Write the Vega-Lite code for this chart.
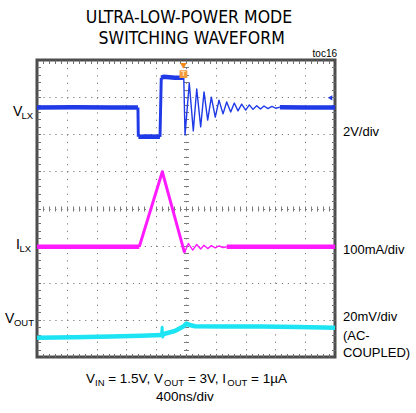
{
  "$schema": "https://vega.github.io/schema/vega-lite/v6.json",
  "width": 298,
  "height": 297,
  "autosize": "none",
  "padding": {"left": 37, "top": 60, "right": 81, "bottom": 56},
  "background": "white",
  "config": {
    "view": {"stroke": "#4d4d4d", "strokeWidth": 3},
    "axis": {"labels": false, "title": null, "domain": false, "ticks": false, "grid": false},
    "text": {"font": "Liberation Sans, Arial, sans-serif", "fontSize": 13, "baseline": "alphabetic", "align": "left", "color": "#000"}
  },
  "data": {"values": [{}]},
  "datasets": {
    "traces": [
      {"trace": "VLX", "seg": "a", "kind": "flat", "t": -2000, "d": 6.72},
      {"trace": "VLX", "seg": "a", "kind": "flat", "t": -1500, "d": 6.73},
      {"trace": "VLX", "seg": "a", "kind": "flat", "t": -1000, "d": 6.72},
      {"trace": "VLX", "seg": "a", "kind": "flat", "t": -645, "d": 6.72},
      {"trace": "VLX", "seg": "b", "kind": "edge", "t": -645, "d": 6.72},
      {"trace": "VLX", "seg": "b", "kind": "edge", "t": -640, "d": 5.93},
      {"trace": "VLX", "seg": "c", "kind": "flat", "t": -640, "d": 5.93},
      {"trace": "VLX", "seg": "c", "kind": "flat", "t": -500, "d": 5.94},
      {"trace": "VLX", "seg": "c", "kind": "flat", "t": -349, "d": 5.93},
      {"trace": "VLX", "seg": "d", "kind": "edge", "t": -349, "d": 5.93},
      {"trace": "VLX", "seg": "d", "kind": "edge", "t": -332, "d": 7.52},
      {"trace": "VLX", "seg": "e", "kind": "flat", "t": -332, "d": 7.52},
      {"trace": "VLX", "seg": "e", "kind": "flat", "t": -300, "d": 7.55},
      {"trace": "VLX", "seg": "e", "kind": "flat", "t": -150, "d": 7.52},
      {"trace": "VLX", "seg": "e", "kind": "flat", "t": -30, "d": 7.52},
      {"trace": "VLX", "seg": "f", "kind": "ring", "t": -30, "d": 7.52},
      {"trace": "VLX", "seg": "f", "kind": "ring", "t": -13, "d": 5.98},
      {"trace": "VLX", "seg": "f", "kind": "ring", "t": 44, "d": 7.38},
      {"trace": "VLX", "seg": "f", "kind": "ring", "t": 98, "d": 6.09},
      {"trace": "VLX", "seg": "f", "kind": "ring", "t": 144, "d": 7.22},
      {"trace": "VLX", "seg": "f", "kind": "ring", "t": 197, "d": 6.2},
      {"trace": "VLX", "seg": "f", "kind": "ring", "t": 242, "d": 7.14},
      {"trace": "VLX", "seg": "f", "kind": "ring", "t": 291, "d": 6.38},
      {"trace": "VLX", "seg": "f", "kind": "ring", "t": 340, "d": 7.0},
      {"trace": "VLX", "seg": "f", "kind": "ring", "t": 393, "d": 6.46},
      {"trace": "VLX", "seg": "f", "kind": "ring", "t": 443, "d": 6.92},
      {"trace": "VLX", "seg": "f", "kind": "ring", "t": 497, "d": 6.55},
      {"trace": "VLX", "seg": "f", "kind": "ring", "t": 546, "d": 6.87},
      {"trace": "VLX", "seg": "f", "kind": "ring", "t": 600, "d": 6.6},
      {"trace": "VLX", "seg": "f", "kind": "ring", "t": 648, "d": 6.84},
      {"trace": "VLX", "seg": "f", "kind": "ring", "t": 698, "d": 6.63},
      {"trace": "VLX", "seg": "f", "kind": "ring", "t": 747, "d": 6.81},
      {"trace": "VLX", "seg": "f", "kind": "ring", "t": 801, "d": 6.65},
      {"trace": "VLX", "seg": "f", "kind": "ring", "t": 850, "d": 6.79},
      {"trace": "VLX", "seg": "f", "kind": "ring", "t": 899, "d": 6.67},
      {"trace": "VLX", "seg": "f", "kind": "ring", "t": 949, "d": 6.77},
      {"trace": "VLX", "seg": "f", "kind": "ring", "t": 1000, "d": 6.68},
      {"trace": "VLX", "seg": "f", "kind": "ring", "t": 1047, "d": 6.76},
      {"trace": "VLX", "seg": "f", "kind": "ring", "t": 1100, "d": 6.69},
      {"trace": "VLX", "seg": "f", "kind": "ring", "t": 1154, "d": 6.75},
      {"trace": "VLX", "seg": "f", "kind": "ring", "t": 1208, "d": 6.7},
      {"trace": "VLX", "seg": "f", "kind": "ring", "t": 1260, "d": 6.73},
      {"trace": "VLX", "seg": "g", "kind": "flat", "t": 1260, "d": 6.73},
      {"trace": "VLX", "seg": "g", "kind": "flat", "t": 1600, "d": 6.72},
      {"trace": "VLX", "seg": "g", "kind": "flat", "t": 2000, "d": 6.72},
      {"trace": "ILX", "seg": "a", "kind": "flat", "t": -2000, "d": 2.97},
      {"trace": "ILX", "seg": "a", "kind": "flat", "t": -1000, "d": 2.97},
      {"trace": "ILX", "seg": "a", "kind": "flat", "t": -627, "d": 2.97},
      {"trace": "ILX", "seg": "b", "kind": "edge", "t": -627, "d": 2.97},
      {"trace": "ILX", "seg": "b", "kind": "edge", "t": -318, "d": 4.99},
      {"trace": "ILX", "seg": "b", "kind": "edge", "t": -20, "d": 2.81},
      {"trace": "ILX", "seg": "c", "kind": "ring", "t": -20, "d": 2.81},
      {"trace": "ILX", "seg": "c", "kind": "ring", "t": 31, "d": 3.06},
      {"trace": "ILX", "seg": "c", "kind": "ring", "t": 90, "d": 2.88},
      {"trace": "ILX", "seg": "c", "kind": "ring", "t": 144, "d": 3.03},
      {"trace": "ILX", "seg": "c", "kind": "ring", "t": 197, "d": 2.91},
      {"trace": "ILX", "seg": "c", "kind": "ring", "t": 242, "d": 3.01},
      {"trace": "ILX", "seg": "c", "kind": "ring", "t": 291, "d": 2.92},
      {"trace": "ILX", "seg": "c", "kind": "ring", "t": 340, "d": 3.0},
      {"trace": "ILX", "seg": "c", "kind": "ring", "t": 393, "d": 2.94},
      {"trace": "ILX", "seg": "c", "kind": "ring", "t": 443, "d": 2.99},
      {"trace": "ILX", "seg": "c", "kind": "ring", "t": 497, "d": 2.95},
      {"trace": "ILX", "seg": "c", "kind": "ring", "t": 546, "d": 2.97},
      {"trace": "ILX", "seg": "d", "kind": "flat", "t": 546, "d": 2.97},
      {"trace": "ILX", "seg": "d", "kind": "flat", "t": 1200, "d": 2.97},
      {"trace": "ILX", "seg": "d", "kind": "flat", "t": 2000, "d": 2.97},
      {"trace": "VOUT", "seg": "a", "kind": "flat", "t": -2000, "d": 0.52},
      {"trace": "VOUT", "seg": "a", "kind": "flat", "t": -1500, "d": 0.53},
      {"trace": "VOUT", "seg": "a", "kind": "flat", "t": -1000, "d": 0.55},
      {"trace": "VOUT", "seg": "a", "kind": "flat", "t": -600, "d": 0.57},
      {"trace": "VOUT", "seg": "a", "kind": "flat", "t": -330, "d": 0.59},
      {"trace": "VOUT", "seg": "b", "kind": "edge", "t": -330, "d": 0.59},
      {"trace": "VOUT", "seg": "b", "kind": "edge", "t": -320, "d": 0.8},
      {"trace": "VOUT", "seg": "b", "kind": "edge", "t": -313, "d": 0.54},
      {"trace": "VOUT", "seg": "b", "kind": "edge", "t": -300, "d": 0.62},
      {"trace": "VOUT", "seg": "c", "kind": "flat", "t": -300, "d": 0.62},
      {"trace": "VOUT", "seg": "c", "kind": "flat", "t": -150, "d": 0.7},
      {"trace": "VOUT", "seg": "c", "kind": "flat", "t": -30, "d": 0.83},
      {"trace": "VOUT", "seg": "c", "kind": "flat", "t": 5, "d": 0.9},
      {"trace": "VOUT", "seg": "c", "kind": "flat", "t": 50, "d": 0.86},
      {"trace": "VOUT", "seg": "c", "kind": "flat", "t": 120, "d": 0.83},
      {"trace": "VOUT", "seg": "c", "kind": "flat", "t": 500, "d": 0.82},
      {"trace": "VOUT", "seg": "c", "kind": "flat", "t": 1000, "d": 0.82},
      {"trace": "VOUT", "seg": "c", "kind": "flat", "t": 1500, "d": 0.81},
      {"trace": "VOUT", "seg": "c", "kind": "flat", "t": 2000, "d": 0.79}
    ]
  },
  "layer": [
    {
      "data": {"name": "traces"},
      "transform": [{"filter": "datum.trace === 'VLX'"}],
      "mark": {"type": "line", "color": "#1f3ae6", "strokeJoin": "round"},
      "encoding": {
        "x": {"field": "t", "type": "quantitative", "scale": {"domain": [-2000, 2000], "nice": false, "zero": false},
          "axis": {"orient": "bottom", "values": [-1600, -1200, -800, -400, 0, 400, 800, 1200, 1600], "grid": true, "gridDash": [1.2, 6.2], "gridColor": "#7a7a7a", "gridWidth": 1, "ticks": false, "domain": false, "labels": false}},
        "y": {"field": "d", "type": "quantitative", "scale": {"domain": [0, 8], "nice": false, "zero": false},
          "axis": {"orient": "left", "values": [1, 2, 3, 4, 5, 6, 7], "grid": true, "gridDash": [1.2, 4.76], "gridColor": "#7a7a7a", "gridWidth": 1, "ticks": false, "domain": false, "labels": false}},
        "strokeWidth": {"field": "kind", "type": "nominal", "scale": {"domain": ["flat", "edge", "ring"], "range": [4.5, 1.4, 2.8]}, "legend": null},
        "detail": {"field": "seg"}
      }
    },
    {
      "data": {"name": "traces"},
      "transform": [{"filter": "datum.trace === 'ILX'"}],
      "mark": {"type": "line", "color": "#ff1aff", "strokeJoin": "round"},
      "encoding": {
        "x": {"field": "t", "type": "quantitative", "scale": {"domain": [-2000, 2000], "nice": false, "zero": false},
          "axis": {"orient": "bottom", "values": [-1920,-1840,-1760,-1680,-1600,-1520,-1440,-1360,-1280,-1200,-1120,-1040,-960,-880,-800,-720,-640,-560,-480,-400,-320,-240,-160,-80,0,80,160,240,320,400,480,560,640,720,800,880,960,1040,1120,1200,1280,1360,1440,1520,1600,1680,1760,1840,1920], "ticks": true, "tickSize": -3.5, "tickColor": "#6e6e6e", "tickWidth": 1, "grid": false, "domain": false, "labels": false}},
        "y": {"field": "d", "type": "quantitative", "scale": {"domain": [0, 8], "nice": false, "zero": false},
          "axis": {"orient": "left", "values": [0.2,0.4,0.6,0.8,1,1.2,1.4,1.6,1.8,2,2.2,2.4,2.6,2.8,3,3.2,3.4,3.6,3.8,4,4.2,4.4,4.6,4.8,5,5.2,5.4,5.6,5.8,6,6.2,6.4,6.6,6.8,7,7.2,7.4,7.6,7.8], "ticks": true, "tickSize": -3.5, "tickColor": "#6e6e6e", "tickWidth": 1, "grid": false, "domain": false, "labels": false}},
        "strokeWidth": {"field": "kind", "type": "nominal", "scale": {"domain": ["flat", "edge", "ring"], "range": [4.5, 1.4, 2.8]}, "legend": null},
        "detail": {"field": "seg"}
      }
    },
    {
      "data": {"name": "traces"},
      "transform": [{"filter": "datum.trace === 'VOUT'"}],
      "mark": {"type": "line", "color": "#1de4f2", "strokeJoin": "round"},
      "encoding": {
        "x": {"field": "t", "type": "quantitative", "scale": {"domain": [-2000, 2000], "nice": false, "zero": false},
          "axis": {"orient": "top", "values": [-1920,-1840,-1760,-1680,-1600,-1520,-1440,-1360,-1280,-1200,-1120,-1040,-960,-880,-800,-720,-640,-560,-480,-400,-320,-240,-160,-80,0,80,160,240,320,400,480,560,640,720,800,880,960,1040,1120,1200,1280,1360,1440,1520,1600,1680,1760,1840,1920], "ticks": true, "tickSize": -3.5, "tickColor": "#6e6e6e", "tickWidth": 1, "grid": false, "domain": false, "labels": false}},
        "y": {"field": "d", "type": "quantitative", "scale": {"domain": [0, 8], "nice": false, "zero": false},
          "axis": {"orient": "right", "values": [0.2,0.4,0.6,0.8,1,1.2,1.4,1.6,1.8,2,2.2,2.4,2.6,2.8,3,3.2,3.4,3.6,3.8,4,4.2,4.4,4.6,4.8,5,5.2,5.4,5.6,5.8,6,6.2,6.4,6.6,6.8,7,7.2,7.4,7.6,7.8], "ticks": true, "tickSize": -3.5, "tickColor": "#6e6e6e", "tickWidth": 1, "grid": false, "domain": false, "labels": false}},
        "strokeWidth": {"field": "kind", "type": "nominal", "scale": {"domain": ["flat", "edge", "ring"], "range": [4.5, 1.4, 2.8]}, "legend": null},
        "detail": {"field": "seg"}
      }
    },
    {
      "mark": {"type": "point", "shape": "triangle-down", "filled": true, "color": "#f28a1a", "size": 45, "opacity": 1},
      "encoding": {
        "x": {"datum": -35, "type": "quantitative", "scale": {"domain": [-2000, 2000], "nice": false, "zero": false},
          "axis": {"orient": "bottom", "offset": -151, "values": [-1920,-1840,-1760,-1680,-1600,-1520,-1440,-1360,-1280,-1200,-1120,-1040,-960,-880,-800,-720,-640,-560,-480,-400,-320,-240,-160,-80,0,80,160,240,320,400,480,560,640,720,800,880,960,1040,1120,1200,1280,1360,1440,1520,1600,1680,1760,1840,1920], "ticks": true, "tickSize": 5, "tickColor": "#7a7a7a", "tickWidth": 1, "grid": false, "domain": false, "labels": false}},
        "y": {"datum": 7.84, "type": "quantitative", "scale": {"domain": [0, 8], "nice": false, "zero": false},
          "axis": {"orient": "left", "offset": -151.5, "values": [0.2,0.4,0.6,0.8,1,1.2,1.4,1.6,1.8,2,2.2,2.4,2.6,2.8,3,3.2,3.4,3.6,3.8,4,4.2,4.4,4.6,4.8,5,5.2,5.4,5.6,5.8,6,6.2,6.4,6.6,6.8,7,7.2,7.4,7.6,7.8], "ticks": true, "tickSize": 5, "tickColor": "#7a7a7a", "tickWidth": 1, "grid": false, "domain": false, "labels": false}}
      }
    },
    {
      "mark": {"type": "point", "shape": "square", "filled": true, "color": "#f39a3c", "size": 60, "opacity": 1},
      "encoding": {
        "x": {"datum": -35, "type": "quantitative", "scale": {"domain": [-2000, 2000], "nice": false, "zero": false}, "axis": null},
        "y": {"datum": 7.62, "type": "quantitative", "scale": {"domain": [0, 8], "nice": false, "zero": false}, "axis": null}
      }
    },
    {
      "mark": {"type": "text", "text": "T", "align": "center", "baseline": "middle", "fontSize": 8, "fontWeight": "bold", "color": "#ffe2b8"},
      "encoding": {
        "x": {"datum": -35, "type": "quantitative", "scale": {"domain": [-2000, 2000], "nice": false, "zero": false}, "axis": null},
        "y": {"datum": 7.62, "type": "quantitative", "scale": {"domain": [0, 8], "nice": false, "zero": false}, "axis": null}
      }
    },
    {
      "mark": {"type": "point", "shape": "triangle-left", "filled": true, "color": "#1f3ae6", "size": 28, "opacity": 1},
      "encoding": {
        "x": {"datum": 1933, "type": "quantitative", "scale": {"domain": [-2000, 2000], "nice": false, "zero": false}, "axis": null},
        "y": {"datum": 6.98, "type": "quantitative", "scale": {"domain": [0, 8], "nice": false, "zero": false}, "axis": null}
      }
    },
    {
      "mark": {"type": "text", "text": "ULTRA-LOW-POWER MODE", "align": "center", "fontSize": 17.5, "font": "Liberation Sans Narrow, Arial Narrow, DejaVu Sans Condensed, sans-serif"},
      "encoding": {
        "x": {"datum": 40, "type": "quantitative", "scale": {"domain": [-2000, 2000], "nice": false, "zero": false}, "axis": null},
        "y": {"datum": 8.989, "type": "quantitative", "scale": {"domain": [0, 8], "nice": false, "zero": false}, "axis": null}
      }
    },
    {
      "mark": {"type": "text", "text": "SWITCHING WAVEFORM", "align": "center", "fontSize": 17.5, "font": "Liberation Sans Narrow, Arial Narrow, DejaVu Sans Condensed, sans-serif"},
      "encoding": {
        "x": {"datum": 76, "type": "quantitative", "scale": {"domain": [-2000, 2000], "nice": false, "zero": false}, "axis": null},
        "y": {"datum": 8.431, "type": "quantitative", "scale": {"domain": [0, 8], "nice": false, "zero": false}, "axis": null}
      }
    },
    {
      "mark": {"type": "text", "text": "toc16", "align": "right", "fontSize": 10},
      "encoding": {
        "x": {"datum": 2027, "type": "quantitative", "scale": {"domain": [-2000, 2000], "nice": false, "zero": false}, "axis": null},
        "y": {"datum": 8.07, "type": "quantitative", "scale": {"domain": [0, 8], "nice": false, "zero": false}, "axis": null}
      }
    },
    {
      "mark": {"type": "text", "text": "V", "fontSize": 14},
      "encoding": {
        "x": {"datum": -2322, "type": "quantitative", "scale": {"domain": [-2000, 2000], "nice": false, "zero": false}, "axis": null},
        "y": {"datum": 6.5, "type": "quantitative", "scale": {"domain": [0, 8], "nice": false, "zero": false}, "axis": null}
      }
    },
    {
      "mark": {"type": "text", "text": "LX", "fontSize": 9.5},
      "encoding": {
        "x": {"datum": -2208, "type": "quantitative", "scale": {"domain": [-2000, 2000], "nice": false, "zero": false}, "axis": null},
        "y": {"datum": 6.41, "type": "quantitative", "scale": {"domain": [0, 8], "nice": false, "zero": false}, "axis": null}
      }
    },
    {
      "mark": {"type": "text", "text": "I", "fontSize": 14},
      "encoding": {
        "x": {"datum": -2282, "type": "quantitative", "scale": {"domain": [-2000, 2000], "nice": false, "zero": false}, "axis": null},
        "y": {"datum": 2.909, "type": "quantitative", "scale": {"domain": [0, 8], "nice": false, "zero": false}, "axis": null}
      }
    },
    {
      "mark": {"type": "text", "text": "LX", "fontSize": 9.5},
      "encoding": {
        "x": {"datum": -2235, "type": "quantitative", "scale": {"domain": [-2000, 2000], "nice": false, "zero": false}, "axis": null},
        "y": {"datum": 2.82, "type": "quantitative", "scale": {"domain": [0, 8], "nice": false, "zero": false}, "axis": null}
      }
    },
    {
      "mark": {"type": "text", "text": "V", "fontSize": 14},
      "encoding": {
        "x": {"datum": -2430, "type": "quantitative", "scale": {"domain": [-2000, 2000], "nice": false, "zero": false}, "axis": null},
        "y": {"datum": 0.916, "type": "quantitative", "scale": {"domain": [0, 8], "nice": false, "zero": false}, "axis": null}
      }
    },
    {
      "mark": {"type": "text", "text": "OUT", "fontSize": 9.5},
      "encoding": {
        "x": {"datum": -2309, "type": "quantitative", "scale": {"domain": [-2000, 2000], "nice": false, "zero": false}, "axis": null},
        "y": {"datum": 0.835, "type": "quantitative", "scale": {"domain": [0, 8], "nice": false, "zero": false}, "axis": null}
      }
    },
    {
      "mark": {"type": "text", "text": "2V/div"},
      "encoding": {
        "x": {"datum": 2107, "type": "quantitative", "scale": {"domain": [-2000, 2000], "nice": false, "zero": false}, "axis": null},
        "y": {"datum": 5.953, "type": "quantitative", "scale": {"domain": [0, 8], "nice": false, "zero": false}, "axis": null}
      }
    },
    {
      "mark": {"type": "text", "text": "100mA/div"},
      "encoding": {
        "x": {"datum": 2107, "type": "quantitative", "scale": {"domain": [-2000, 2000], "nice": false, "zero": false}, "axis": null},
        "y": {"datum": 2.774, "type": "quantitative", "scale": {"domain": [0, 8], "nice": false, "zero": false}, "axis": null}
      }
    },
    {
      "mark": {"type": "text", "text": "20mV/div"},
      "encoding": {
        "x": {"datum": 2107, "type": "quantitative", "scale": {"domain": [-2000, 2000], "nice": false, "zero": false}, "axis": null},
        "y": {"datum": 0.97, "type": "quantitative", "scale": {"domain": [0, 8], "nice": false, "zero": false}, "axis": null}
      }
    },
    {
      "mark": {"type": "text", "text": "(AC-"},
      "encoding": {
        "x": {"datum": 2107, "type": "quantitative", "scale": {"domain": [-2000, 2000], "nice": false, "zero": false}, "axis": null},
        "y": {"datum": 0.458, "type": "quantitative", "scale": {"domain": [0, 8], "nice": false, "zero": false}, "axis": null}
      }
    },
    {
      "mark": {"type": "text", "text": "COUPLED)"},
      "encoding": {
        "x": {"datum": 2107, "type": "quantitative", "scale": {"domain": [-2000, 2000], "nice": false, "zero": false}, "axis": null},
        "y": {"datum": 0.008, "type": "quantitative", "scale": {"domain": [0, 8], "nice": false, "zero": false}, "axis": null}
      }
    },
    {
      "mark": {"type": "text", "text": "V", "fontSize": 13.5},
      "encoding": {
        "x": {"datum": -1342, "type": "quantitative", "scale": {"domain": [-2000, 2000], "nice": false, "zero": false}, "axis": null},
        "y": {"datum": -0.7, "type": "quantitative", "scale": {"domain": [0, 8], "nice": false, "zero": false}, "axis": null}
      }
    },
    {
      "mark": {"type": "text", "text": "IN", "fontSize": 9.5},
      "encoding": {
        "x": {"datum": -1221, "type": "quantitative", "scale": {"domain": [-2000, 2000], "nice": false, "zero": false}, "axis": null},
        "y": {"datum": -0.781, "type": "quantitative", "scale": {"domain": [0, 8], "nice": false, "zero": false}, "axis": null}
      }
    },
    {
      "mark": {"type": "text", "text": "= 1.5V, V", "fontSize": 13.5},
      "encoding": {
        "x": {"datum": -1044, "type": "quantitative", "scale": {"domain": [-2000, 2000], "nice": false, "zero": false}, "axis": null},
        "y": {"datum": -0.7, "type": "quantitative", "scale": {"domain": [0, 8], "nice": false, "zero": false}, "axis": null}
      }
    },
    {
      "mark": {"type": "text", "text": "OUT", "fontSize": 9.5},
      "encoding": {
        "x": {"datum": -294, "type": "quantitative", "scale": {"domain": [-2000, 2000], "nice": false, "zero": false}, "axis": null},
        "y": {"datum": -0.781, "type": "quantitative", "scale": {"domain": [0, 8], "nice": false, "zero": false}, "axis": null}
      }
    },
    {
      "mark": {"type": "text", "text": "= 3V, I", "fontSize": 13.5},
      "encoding": {
        "x": {"datum": 26, "type": "quantitative", "scale": {"domain": [-2000, 2000], "nice": false, "zero": false}, "axis": null},
        "y": {"datum": -0.7, "type": "quantitative", "scale": {"domain": [0, 8], "nice": false, "zero": false}, "axis": null}
      }
    },
    {
      "mark": {"type": "text", "text": "OUT", "fontSize": 9.5},
      "encoding": {
        "x": {"datum": 554, "type": "quantitative", "scale": {"domain": [-2000, 2000], "nice": false, "zero": false}, "axis": null},
        "y": {"datum": -0.781, "type": "quantitative", "scale": {"domain": [0, 8], "nice": false, "zero": false}, "axis": null}
      }
    },
    {
      "mark": {"type": "text", "text": "= 1µA", "fontSize": 13.5},
      "encoding": {
        "x": {"datum": 874, "type": "quantitative", "scale": {"domain": [-2000, 2000], "nice": false, "zero": false}, "axis": null},
        "y": {"datum": -0.7, "type": "quantitative", "scale": {"domain": [0, 8], "nice": false, "zero": false}, "axis": null}
      }
    },
    {
      "mark": {"type": "text", "text": "400ns/div", "align": "center", "fontSize": 13.5},
      "encoding": {
        "x": {"datum": -14, "type": "quantitative", "scale": {"domain": [-2000, 2000], "nice": false, "zero": false}, "axis": null},
        "y": {"datum": -1.185, "type": "quantitative", "scale": {"domain": [0, 8], "nice": false, "zero": false}, "axis": null}
      }
    }
  ],
  "resolve": {"axis": {"x": "independent", "y": "independent"}}
}
